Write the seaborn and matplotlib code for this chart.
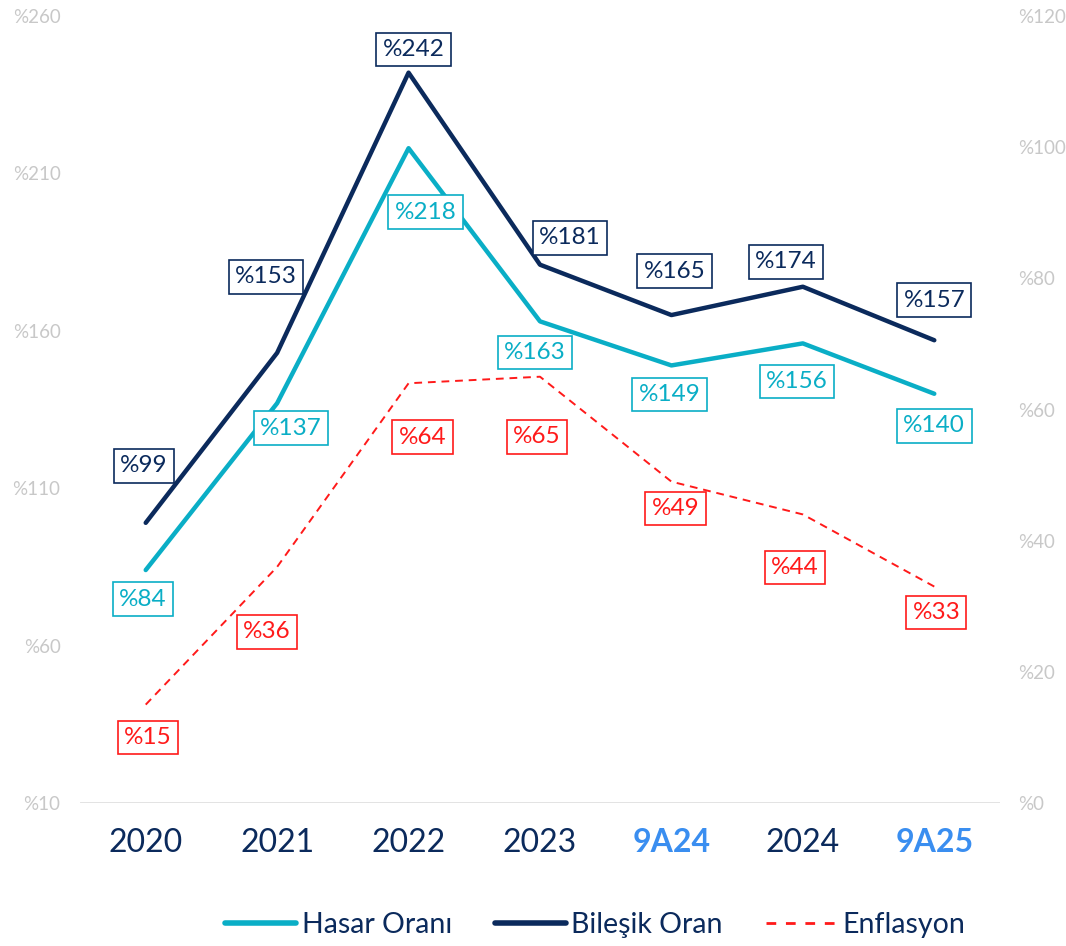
import matplotlib
matplotlib.use("Agg")
import matplotlib.pyplot as plt
import seaborn as sns
import pandas as pd
from matplotlib.lines import Line2D

categories = ["2020", "2021", "2022", "2023", "9A24", "2024", "9A25"]
hasar = [84, 137, 218, 163, 149, 156, 140]
bilesik = [99, 153, 242, 181, 165, 174, 157]
enflasyon = [15, 36, 64, 65, 49, 44, 33]
highlight = ["9A24", "9A25"]

# label offsets in pixels (dx, dy; positive dy = below point)
off_hasar = [(-3, 29), (14, 25), (17, 64), (-5, 31), (-2, 29), (-6, 38), (0, 32)]
off_bil = [(-2, -57), (-11, -76), (5, -23), (30, -27), (3, -44), (-17, -25), (0, -40)]
off_enf = [(2, 33), (-10, 65), (14, 54), (-3, 60), (4, 27), (-8, 53), (2, 26)]

C_CYAN = "#0AAEC6"
C_NAVY = "#0B2A5C"
C_RED = "#FF1A1A"
C_BLUE = "#3A8EF0"
C_GRID = "#DADADA"
C_TICK = "#C8C8C8"

sns.set_theme(style="white")
plt.rcParams["font.family"] = ["Lato", "DejaVu Sans"]

df = pd.DataFrame({"cat": categories, "x": range(len(categories)),
                   "hasar": hasar, "bilesik": bilesik, "enf": enflasyon})

DPI = 100
fig = plt.figure(figsize=(10.66, 9.46), dpi=DPI)
ax = fig.add_axes([80 / 1066, 1 - 803 / 946, 920 / 1066, 787 / 946])
ax2 = ax.twinx()

sns.lineplot(data=df, x="x", y="hasar", ax=ax, color=C_CYAN, lw=3.2,
             solid_capstyle="round", legend=False)
sns.lineplot(data=df, x="x", y="bilesik", ax=ax, color=C_NAVY, lw=3.2,
             solid_capstyle="round", legend=False)
sns.lineplot(data=df, x="x", y="enf", ax=ax2, color=C_RED, lw=1.4,
             legend=False)
ax2.lines[0].set_linestyle((0, (4, 3)))

ax.set_xlim(-0.5, 6.5)
ax.set_ylim(10, 260)
ax2.set_ylim(0, 120)
ax.set_yticks(range(10, 261, 50))
ax.set_yticklabels([f"%{v}" for v in range(10, 261, 50)])
ax2.set_yticks(range(0, 121, 20))
ax2.set_yticklabels([f"%{v}" for v in range(0, 121, 20)])

for a in (ax, ax2):
    for s in a.spines.values():
        s.set_visible(False)
    a.set_xlabel("")
    a.set_ylabel("")
    a.grid(False)

ax.axhline(10, color=C_GRID, lw=1.8, zorder=0)
ax.tick_params(axis="y", length=0, pad=14, labelsize=13.5, labelcolor=C_TICK)
ax2.tick_params(axis="y", length=0, pad=13, labelsize=13.5, labelcolor=C_TICK)
ax.set_xticks(range(len(categories)))
ax.set_xticklabels(categories)
ax.tick_params(axis="x", length=0, pad=18, labelsize=23)
for t in ax.get_xticklabels():
    if t.get_text() in highlight:
        t.set_color(C_BLUE)
        t.set_fontweight("bold")
    else:
        t.set_color(C_NAVY)

px2pt = 72 / DPI

def label(axis, vals, offs, color):
    for i, (v, (dx, dy)) in enumerate(zip(vals, offs)):
        axis.annotate(f"%{v}", xy=(i, v), xytext=(dx * px2pt, -dy * px2pt),
                      textcoords="offset points", ha="center", va="center",
                      fontsize=17.5, color=color, zorder=10,
                      bbox=dict(boxstyle="square,pad=0.26", fc="white",
                                ec=color, lw=1.2))

label(ax, hasar, off_hasar, C_CYAN)
label(ax, bilesik, off_bil, C_NAVY)
label(ax2, enflasyon, off_enf, C_RED)

hnd = [Line2D([], [], color=C_CYAN, lw=4, solid_capstyle="round"),
       Line2D([], [], color=C_NAVY, lw=4, solid_capstyle="round"),
       Line2D([], [], color=C_RED, lw=2, linestyle=(0, (3.5, 3.5)))]
leg = fig.legend(hnd, ["Hasar Oranı", "Bileşik Oran", "Enflasyon"],
                 loc="center", bbox_to_anchor=(595 / 1066, 1 - 925 / 946),
                 ncol=3, frameon=False, fontsize=20.5, handlelength=2.5,
                 handletextpad=0.2, columnspacing=1.5)
for t in leg.get_texts():
    t.set_color(C_NAVY)

fig.savefig("out.png", dpi=DPI)
